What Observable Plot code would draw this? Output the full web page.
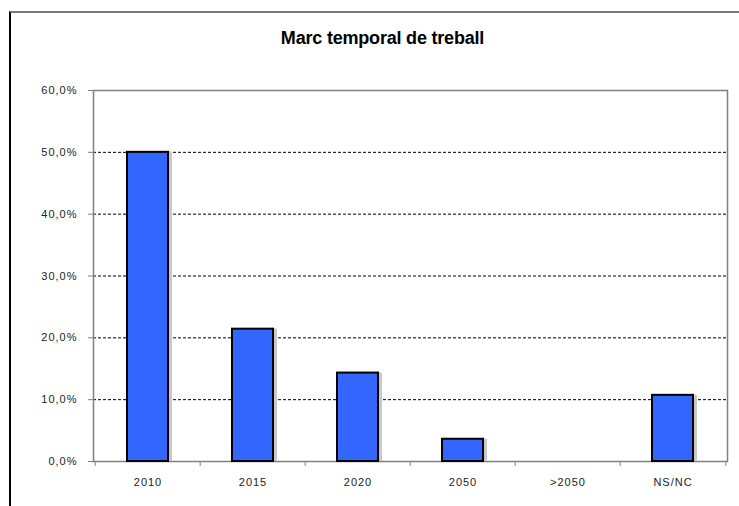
<!DOCTYPE html>
<html>
<head>
<meta charset="utf-8">
<script src="https://cdn.jsdelivr.net/npm/d3@7"></script>
<script src="https://cdn.jsdelivr.net/npm/@observablehq/plot@0.6"></script>
<style>
  html, body { margin: 0; padding: 0; background: #fff; overflow: hidden; }
  #wrap { position: relative; width: 739px; height: 506px; font-family: "Liberation Sans", Arial, sans-serif; }
  #outer { position: absolute; left: 9px; top: 11px; width: 760px; height: 520px;
           border-top: 2px solid #7a7a7a; border-left: 2px solid #000; box-sizing: border-box; }
  #title { position: absolute; left: 0; width: 765px; top: 28px; text-align: center;
           font-weight: bold; font-size: 18px; color: #000; letter-spacing: -0.2px; }
  #chart { position: absolute; left: 0; top: 0; }
  #chart svg text { letter-spacing: 1px; }
</style>
</head>
<body>
<div id="wrap">
  <div id="outer"></div>
  <div id="title">Marc temporal de treball</div>
  <div id="chart"></div>
</div>
<script>
const titleText = "Marc temporal de treball";
const categories = ["2010", "2015", "2020", "2050", ">2050", "NS/NC"];
const values = [50.0, 21.4, 14.3, 3.6, 0, 10.7];
const yTicks = [0, 10, 20, 30, 40, 50, 60];
const gridTicks = [10, 20, 30, 40, 50];

const data = categories.map((c, i) => ({category: c, value: values[i]}));

const W = 739, H = 506;
const mL = 93, mR = 12, mT = 90, mB = 45;
const band = (W - mL - mR) / categories.length;
const fmt = d => d.toFixed(1).replace(".", ",") + "%";

const plot = Plot.plot({
  width: W,
  height: H,
  marginLeft: mL,
  marginRight: mR,
  marginTop: mT,
  marginBottom: mB,
  style: {fontFamily: "'Liberation Sans', Arial, sans-serif", fontSize: "11px", background: "transparent", color: "#222"},
  x: {domain: categories, padding: 0, label: null},
  y: {domain: [0, 60], label: null},
  marks: [
    Plot.gridY(gridTicks, {stroke: "#000", strokeOpacity: 1, strokeDasharray: "3,2", strokeWidth: 1}),
    Plot.frame({stroke: "#808080", strokeWidth: 1.5}),
    // bar shadow
    Plot.barY(data.filter(d => d.value > 0), {x: "category", y: "value", fill: "#c8c8c8", insetLeft: 33, insetRight: 30, dx: 2, dy: 0}),
    Plot.barY(data.filter(d => d.value > 0), {x: "category", y: "value", fill: "#3366FF", stroke: "#000", strokeWidth: 2, insetLeft: 32, insetRight: 32}),
    Plot.axisY(yTicks, {tickSize: 5, tickPadding: 11, tickFormat: fmt, stroke: "#808080", fill: "#222", fontSize: 11}),
    Plot.axisX({tickSize: 0, tickPadding: 17, fill: "#222", fontSize: 11}),
    Plot.axisX(categories, {tickSize: 5, text: null, dx: -band / 2, stroke: "#808080"}),
    Plot.axisX([categories[categories.length - 1]], {tickSize: 5, text: null, dx: band / 2, stroke: "#808080"})
  ]
});
document.getElementById("chart").appendChild(plot);
</script>
</body>
</html>
